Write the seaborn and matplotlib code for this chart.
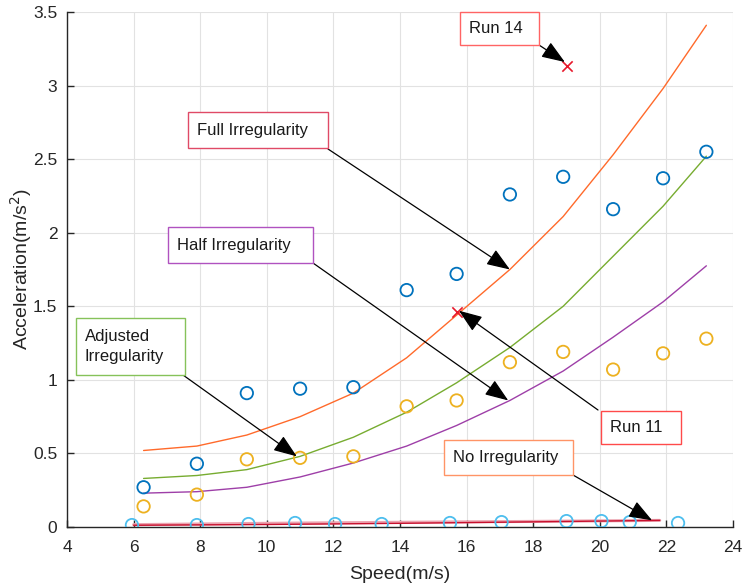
import matplotlib
matplotlib.use("Agg")
import matplotlib.pyplot as plt
import numpy as np
import pandas as pd
import seaborn as sns
from matplotlib.patches import Rectangle

# Test speeds (m/s) for the measured runs and the model curves
speed = [6.3, 7.9, 9.4, 11.0, 12.6, 14.2, 15.7, 17.3, 18.9, 20.4, 21.9, 23.2]

# Measured accelerations (m/s^2)
full_measured = [0.27, 0.43, 0.91, 0.94, 0.95, 1.61, 1.72, 2.26, 2.38, 2.16, 2.37, 2.55]
half_measured = [0.14, 0.22, 0.46, 0.47, 0.48, 0.82, 0.86, 1.12, 1.19, 1.07, 1.18, 1.28]

smooth_speed = [5.95, 7.9, 9.45, 10.85, 12.05, 13.45, 15.5, 17.05, 19.0, 20.05, 20.9, 22.35]
smooth_measured = [0.013, 0.013, 0.02, 0.027, 0.02, 0.02, 0.027, 0.033, 0.04, 0.04, 0.033, 0.027]

# Model predictions (m/s^2)
full_model = [0.52, 0.55, 0.625, 0.75, 0.91, 1.15, 1.44, 1.75, 2.11, 2.53, 2.98, 3.41]
adjusted_model = [0.33, 0.35, 0.39, 0.48, 0.61, 0.78, 0.98, 1.22, 1.50, 1.84, 2.18, 2.52]
half_model = [0.23, 0.24, 0.27, 0.34, 0.435, 0.55, 0.69, 0.86, 1.06, 1.29, 1.53, 1.775]

no_irr_speed = [6.0, 10.0, 14.0, 18.0, 21.8]
no_irr_model = [0.012, 0.017, 0.025, 0.035, 0.045]
no_irr_upper = [0.016, 0.025, 0.032, 0.038, 0.045]

# Highlighted runs
run_labels = ["Run 14", "Run 11"]
run_speed = [19.0, 15.7]
run_accel = [3.13, 1.46]

x_ticks = [4, 6, 8, 10, 12, 14, 16, 18, 20, 22, 24]
y_ticks = [0, 0.5, 1, 1.5, 2, 2.5, 3, 3.5]

sns.set_theme(style="white")
plt.rcParams["font.family"] = ["Liberation Sans", "DejaVu Sans"]

W, H = 743, 588
fig = plt.figure(figsize=(W / 100, H / 100), dpi=100)
ax = fig.add_axes([67 / W, 1 - 527 / H, (733 - 67) / W, (527 - 12) / H])

models = pd.DataFrame({"speed": speed, "full": full_model,
                       "adjusted": adjusted_model, "half": half_model})
no_irr = pd.DataFrame({"speed": no_irr_speed, "model": no_irr_model,
                       "upper": no_irr_upper})

sns.lineplot(data=no_irr, x="speed", y="upper", color="#EBA3AF", lw=2.2, ax=ax)
sns.lineplot(data=no_irr, x="speed", y="model", color="#C8102E", lw=1.0, ax=ax)
sns.lineplot(data=models, x="speed", y="full", color="#FF6A2B", lw=1.0, ax=ax)
sns.lineplot(data=models, x="speed", y="adjusted", color="#77AC30", lw=1.0, ax=ax)
sns.lineplot(data=models, x="speed", y="half", color="#9E3FA8", lw=1.0, ax=ax)

circle_kw = dict(marker="o", s=80, facecolor="none", linewidth=1.3, ax=ax, zorder=4)
sns.scatterplot(x=speed, y=full_measured, edgecolor="#0072BD", **circle_kw)
sns.scatterplot(x=speed, y=half_measured, edgecolor="#EDB120", **circle_kw)
sns.scatterplot(x=smooth_speed, y=smooth_measured, edgecolor="#4DBEEE", **circle_kw)
sns.scatterplot(x=run_speed, y=run_accel, marker="x", s=55, color="#E8182B",
                linewidth=1.2, ax=ax, zorder=5)

ax.set_xlim(4, 24)
ax.set_ylim(0, 3.5)
ax.set_xticks(x_ticks)
ax.set_yticks(y_ticks)
ax.set_xticklabels([f"{v:g}" for v in x_ticks])
ax.set_yticklabels([f"{v:g}" for v in y_ticks])
ax.grid(True, color="#E2E2E2", lw=0.8)
ax.set_axisbelow(True)
for side in ("top", "right"):
    ax.spines[side].set_visible(False)
for side in ("left", "bottom"):
    ax.spines[side].set_color("#262626")
    ax.spines[side].set_linewidth(1.0)
ax.tick_params(direction="in", length=5, width=1.0, color="#262626",
               labelsize=12.5, labelcolor="#262626",
               left=True, bottom=True)
ax.tick_params(axis="x", pad=9)
ax.tick_params(axis="y", pad=7)
ax.set_xlabel("Speed(m/s)", fontsize=14, color="#262626", labelpad=8)
ax.set_ylabel("Acceleration(m/s$^2$)", fontsize=14, color="#262626")
ax.yaxis.set_label_coords(-0.05, 0.5)


def fig_xy(px, py):
    return px / W, 1 - py / H


# Text boxes: (text, box left, top, right, bottom in pixels, edge colour,
#              arrow start in pixels, arrow target in data units)
notes = [
    ("Run 14", (460, 12, 539, 45), "#FF6464", (539, 45), (run_speed[0] - 0.05, run_accel[0] + 0.03)),
    ("Full Irregularity", (188, 112, 328, 148), "#E04A66", (328, 149), (speed[7], full_model[7])),
    ("Half Irregularity", (168, 227, 313, 263), "#B052C0", (313, 263), (speed[7] - 0.05, half_model[7])),
    ("Adjusted\nIrregularity", (76, 318, 185, 375), "#86C25A", (183, 375), (speed[3] - 0.1, adjusted_model[3])),
    ("Run 11", (601, 411, 681, 444), "#FF4A4A", (598, 410), (run_speed[1] + 0.07, run_accel[1] + 0.01)),
    ("No Irregularity", (444, 440, 573, 475), "#FF9466", (573, 475), (21.57, 0.045)),
]

for text, (x0, y0, x1, y1), ec, start, target in notes:
    bl = fig_xy(x0, y1)
    fig.patches.append(Rectangle(bl, (x1 - x0) / W, (y1 - y0) / H,
                                 transform=fig.transFigure, facecolor="white",
                                 edgecolor=ec, lw=1.0, zorder=6))
    tx, ty = fig_xy(x0 + 9, (y0 + y1) / 2)
    fig.text(tx, ty, text, ha="left", va="center", fontsize=12,
             color="#1A1A1A", linespacing=1.45, zorder=7)
    ax.annotate("", xy=target, xycoords="data",
                xytext=fig_xy(*start), textcoords="figure fraction",
                arrowprops=dict(arrowstyle="-|>,head_length=1.2,head_width=0.45",
                                color="black", lw=0.9, shrinkA=0, shrinkB=0),
                zorder=6)

fig.savefig("out.png", dpi=100)
